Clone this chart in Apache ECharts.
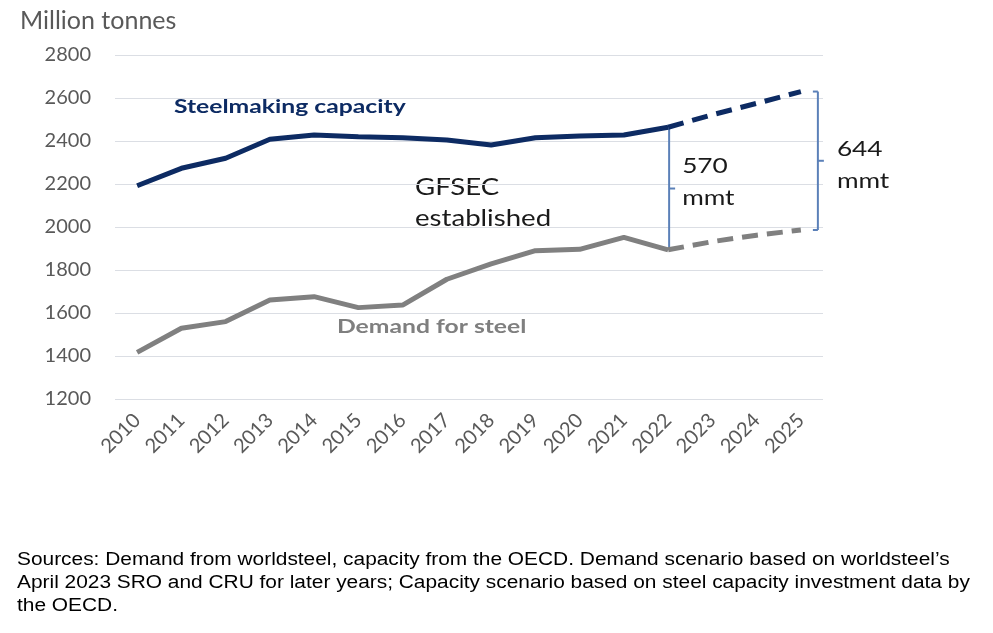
<!DOCTYPE html>
<html><head><meta charset="utf-8">
<script src="https://cdn.jsdelivr.net/npm/echarts@6/dist/echarts.min.js"></script>
<style>html,body{margin:0;padding:0;background:#fff}#c{width:993px;height:633px}</style>
</head><body><div id="c"></div>
<script>
const years = ['2010','2011','2012','2013','2014','2015','2016','2017','2018','2019','2020','2021','2022','2023','2024','2025'];
const capacityActual = [2192,2273,2320,2408,2428,2420,2415,2405,2381,2415,2423,2428,2464,null,null,null];
const capacityScenario = [null,null,null,null,null,null,null,null,null,null,null,null,2464,2522,2575,2630];
const demandActual = [1417,1529,1560,1660,1676,1625,1637,1757,1828,1890,1896,1952,1894,null,null,null];
const demandScenario = [null,null,null,null,null,null,null,null,null,null,null,null,1894,1932,1962,1986];
const yTicks = [1200,1400,1600,1800,2000,2200,2400,2600,2800];
// gap brackets: [category, low, high, label]
const gaps = [['2022',1894,2464,'570\nmmt'],['2025',1986,2630,'644\nmmt']];

const chart = echarts.init(document.getElementById('c'));
const font = 'Lato, "Open Sans", sans-serif';
const bracketColor = '#5b80b8';

chart.setOption({
  animation:false,
  grid:{left:115,right:170,top:55,bottom:234},
  xAxis:{type:'category',data:years,boundaryGap:true,
    axisLine:{show:false},axisTick:{show:false},
    axisLabel:{rotate:45,margin:18,color:'#595959',fontSize:20,fontFamily:font}},
  yAxis:{type:'value',min:yTicks[0],max:yTicks[yTicks.length-1],interval:200,
    axisLine:{show:false},axisTick:{show:false},
    axisLabel:{margin:24,color:'#595959',fontSize:20,fontFamily:font,formatter:v=>String(v)}},
  graphic:[
    {type:'text',left:20,top:8,style:{text:'Million tonnes',fill:'#595959',font:'25px '+font}},
    {type:'text',x:174,y:97,scaleX:1.3,style:{text:'Steelmaking capacity',fill:'#0d2b63',font:'bold 19px '+font}},
    {type:'text',x:337,y:317,scaleX:1.3,style:{text:'Demand for steel',fill:'#7f7f7f',font:'bold 19px '+font}},
    {type:'text',x:415,y:172,scaleX:1.2,style:{text:'GFSEC\nestablished',fill:'#1a1a1a',font:'23px '+font,lineHeight:31}},
    {type:'text',x:17,y:549,scaleX:1.16,style:{text:'Sources: Demand from worldsteel, capacity from the OECD. Demand scenario based on worldsteel\u2019s\nApril 2023 SRO and CRU for later years; Capacity scenario based on steel capacity investment data by\nthe OECD.',fill:'#000',font:'18px "Liberation Sans", Arial, sans-serif',lineHeight:23}}
  ],
  series:[
    {type:'line',data:capacityActual,symbol:'none',lineStyle:{color:'#0d2b63',width:5},z:3},
    {type:'line',data:capacityScenario,symbol:'none',lineStyle:{color:'#0d2b63',width:5,type:[16,9]},z:3},
    {type:'line',data:demandActual,symbol:'none',lineStyle:{color:'#808080',width:5},z:3},
    {type:'line',data:demandScenario,symbol:'none',lineStyle:{color:'#808080',width:5,type:[16,9]},z:3},
    {type:'custom',z:2,data:gaps.map(g=>[years.indexOf(g[0]),g[1],g[2]]),
      renderItem:function(params,api){
        const i = params.dataIndex;
        const lo = api.coord([api.value(0),api.value(1)]);
        const hi = api.coord([api.value(0),api.value(2)]);
        const off = i===0?1:17;
        const x = lo[0]+off;
        const mid = (lo[1]+hi[1])/2;
        const children=[
          {type:'line',shape:{x1:x,y1:hi[1],x2:x,y2:lo[1]},style:{stroke:bracketColor,lineWidth:2}},
          {type:'line',shape:{x1:x,y1:mid,x2:x+6,y2:mid},style:{stroke:bracketColor,lineWidth:2}},
          {type:'text',x:x+(i===0?13:19),y:mid+(i===0?-6:4),scaleX:1.25,
            style:{text:gaps[i][3],fill:'#1a1a1a',font:'21px '+font,lineHeight:32,verticalAlign:'middle'}}
        ];
        if(i===1){
          children.push({type:'line',shape:{x1:x-5,y1:hi[1],x2:x,y2:hi[1]},style:{stroke:bracketColor,lineWidth:2}});
          children.push({type:'line',shape:{x1:x-5,y1:lo[1],x2:x,y2:lo[1]},style:{stroke:bracketColor,lineWidth:2}});
        }
        return {type:'group',children:children};
      }}
  ]
});
</script></body></html>
